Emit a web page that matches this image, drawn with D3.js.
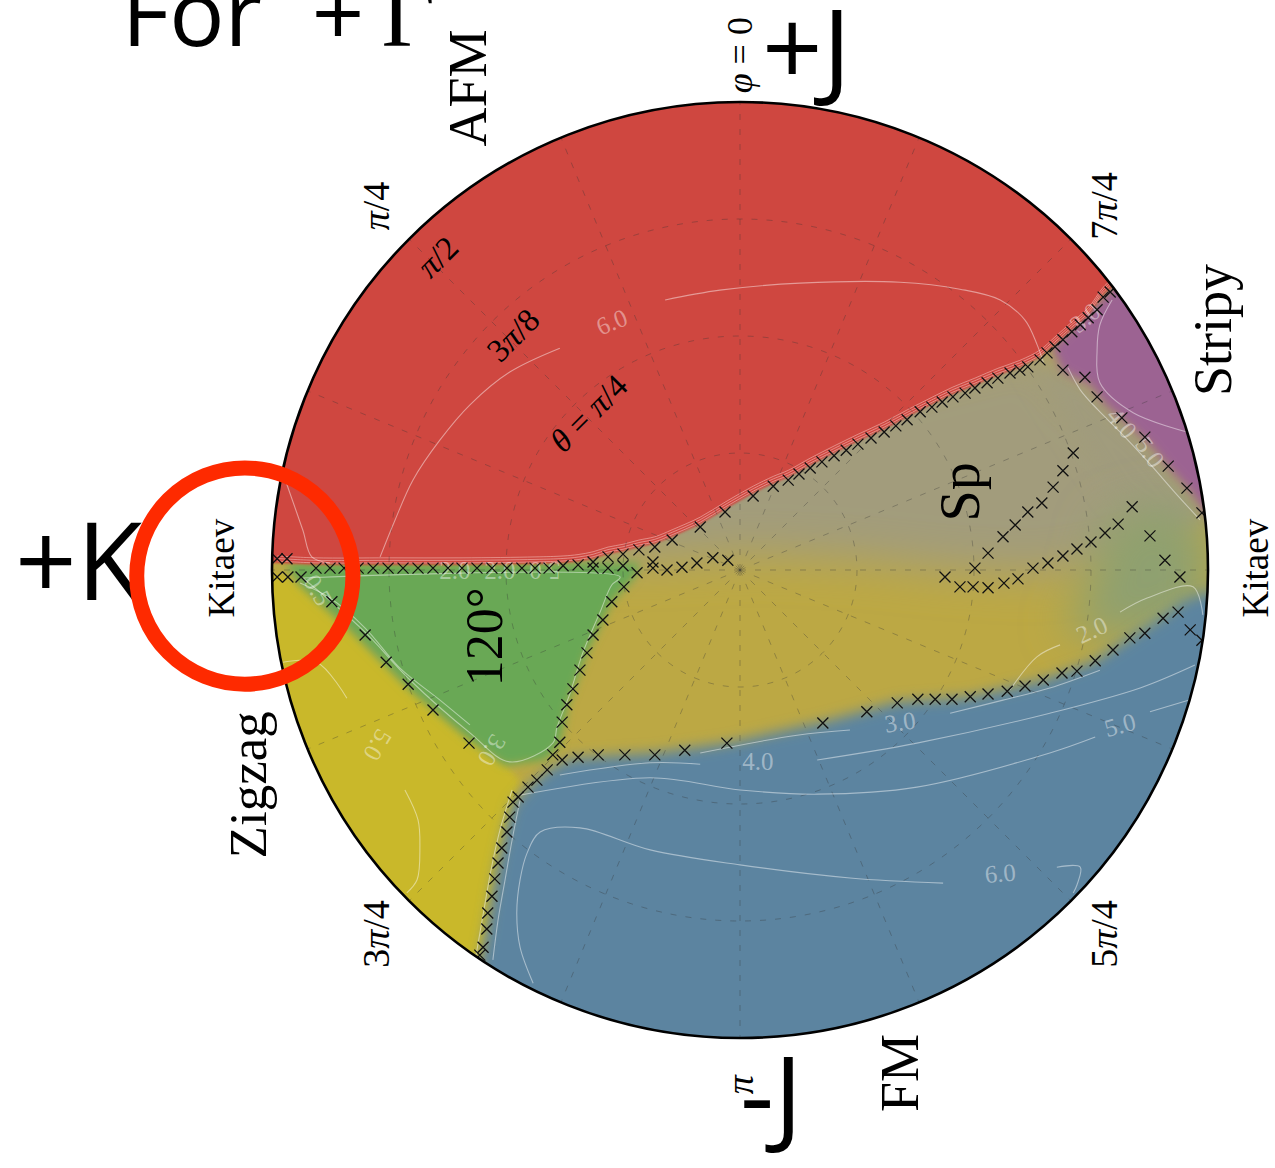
<!DOCTYPE html>
<html><head><meta charset="utf-8">
<script src="https://cdn.jsdelivr.net/npm/d3@7"></script>
<style>body{margin:0;background:#fff}svg{display:block}</style>
</head><body>
<svg id="chart" width="1275" height="1168"></svg>
<script>
// ---------- DATA (projected plane coords: radius 100 <=> theta = pi/2; u right, v up) ----------
const phiTicks = [0, 45, 135, 180, 225, 315];               // degrees
const phiTickLabels = ["φ = 0", "π/4", "3π/4", "π", "5π/4", "7π/4"];
const thetaGrid = [22.5, 45, 67.5];                          // degrees
const phiGrid = d3.range(0, 360, 22.5);
const thetaLabelValues = [90, 67.5, 45];
const thetaLabels = ["π/2", "3π/8", "θ = π/4"];

const afmRegion = [[-120,1.5],[-98.9,1.5],[-90.6,1.1],[-75.2,1.1],[-59.4,1.1],[-43.8,1.3],[-37.8,1.5],[-34.6,1.8],[-31.4,2.4],[-28.2,3.4],[-25.0,4.0],[-21.6,4.9],[-18.2,5.6],[-14.5,7.1],[-8.5,9.8],[-3.2,13.0],[2.8,16.4],[7.1,18.5],[10.3,19.8],[15.0,22.4],[20.1,25.0],[25.2,27.5],[30.8,30.1],[35.7,32.7],[41.0,35.4],[45.5,37.6],[50.2,39.5],[55.1,41.6],[59.8,43.3],[64.1,45.5],[67.3,48.3],[70.9,51.5],[74.4,54.5],[77.6,58.9],[80.5,61.5],[120,90],[120,120],[-120,120]];
const stripyRegion = [[66.5,47.5],[69.0,42.3],[74.8,39.5],[78.0,35.3],[82.3,31.6],[87.6,26.7],[91.9,21.4],[96.2,16.7],[100.4,10.7],[120,10.7],[120,90],[80.5,61.5]];
const spRegion = [[-38.5,1.7],[-17.1,2.1],[4.3,3.2],[25.6,2.1],[44.9,0],[64.1,-1.1],[81.2,2.1],[98.3,8.5],[94.0,17.1],[87.6,25.6],[81.2,30.8],[70.5,40.6],[64.1,49.2],[12.8,36.3],[-38.5,10.7]];
const spUpperRegion = [[60.9,45.0],[69.0,42.3],[74.8,39.5],[78.0,35.3],[82.3,31.6],[87.6,26.7],[91.9,21.4],[96.2,16.7],[100.4,10.7],[90.0,8.0],[80.0,15.0],[70.0,30.0]];
const spGreenRegion = [[78.0,10.7],[91.9,14.9],[100.4,6.4],[100.4,-8.5],[85.5,-14.9],[68.4,-12.8],[74.8,-3.2]];
const tri120Region = [[-97.2,1.5],[-21.4,1.5],[-22.5,-1.5],[-27.4,-6.8],[-32.7,-17.7],[-36.8,-28.8],[-38.5,-37.4],[-41.7,-40.6],[-50.2,-41.7],[-57.7,-36.3],[-70.5,-25.6],[-83.3,-12.8],[-94.0,-3.2]];
const zigzagRegion = [[-120,-1.0],[-97,-1.0],[-94.0,-3.2],[-83.3,-12.8],[-70.5,-25.6],[-57.7,-36.3],[-50.2,-41.7],[-47.0,-44.9],[-49.2,-52.8],[-51.7,-62.6],[-53.4,-73.3],[-55.6,-84.4],[-70,-120],[-120,-120]];
const fmRegion = [[-55.6,-84.4],[-54.1,-76.7],[-53.0,-69.7],[-51.7,-62.6],[-50.2,-56.0],[-48.7,-50.2],[-45.9,-47.0],[-41.7,-43.2],[-36.3,-40.2],[-18.2,-39.1],[-2.8,-37.0],[17.7,-32.5],[33.6,-28.2],[49.2,-27.1],[64.8,-23.5],[75.9,-19.4],[83.3,-14.5],[90.4,-10.0],[95.1,-6.4],[101.5,-4.3],[120,-4.3],[120,-120],[-60,-120]];

// phase-transition points (x markers)
const mAfmEdge = [[79.1,59.4],[77.6,58.3],[76.3,55.6],[74.4,53.9],[72.7,52.4],[70.9,50.9],[69.0,49.2],[67.3,47.7],[65.6,46.4],[64.1,44.9],[61.5,43.4],[59.8,42.7],[57.7,42.1],[55.1,41.0],[52.8,40.0],[50.2,38.9],[48.1,37.8],[45.5,37.0],[43.2,35.9],[41.0,34.8],[38.5,33.8],[35.7,32.1],[33.3,30.8],[30.8,29.5],[28.0,28.2],[25.2,26.9],[22.7,25.6],[20.1,24.4],[17.5,23.1],[15.0,21.8],[12.6,20.5],[10.3,19.2],[7.1,17.9],[2.8,15.8],[-3.2,12.4],[-8.5,9.2],[-14.5,6.4],[-18.2,4.9],[-21.6,4.3],[-25.0,3.4],[-28.2,2.8],[-31.4,1.7],[-34.6,1.1],[-37.8,0.9],[-40.8,0.4],[-43.8,0.4],[-46.6,0.4],[-49.8,0.4],[-53.0,0.4],[-56.2,0.4],[-59.4,0.4],[-62.4,0.4],[-65.6,0.4],[-68.8,0.4],[-72.0,0.4],[-75.2,0.4],[-78.4,0.4],[-81.6,0.4],[-84.6,0.4],[-87.6,0.4],[-90.6,0.4],[-98.9,2.4],[-96.8,2.4],[-98.9,-1.5],[-96.6,-1.5],[-93.8,-1.5]];
const mSpYellow = [[-31.4,0.4],[-28.2,0.4],[-25.0,0.9],[-18.6,1.7],[-18.6,0.4],[-15.6,0.0],[-12.4,0.6],[-9.2,1.5],[-5.8,2.6],[-2.6,2.1]];
const m120Right = [[-22.0,-0.6],[-24.8,-3.6],[-27.4,-6.8],[-29.3,-10.7],[-31.4,-13.9],[-32.7,-17.7],[-34.2,-21.4],[-35.7,-25.4],[-37.0,-28.8],[-38.0,-32.5],[-38.5,-36.8],[-40.0,-39.5],[-38.0,-40.6],[-41.2,-42.7],[-43.4,-44.9],[-45.3,-46.4],[-47.4,-48.5],[-48.5,-49.6]];
const mZigzagFm = [[-49.2,-52.8],[-49.8,-56.0],[-50.9,-59.4],[-51.7,-62.6],[-52.4,-66.0],[-53.0,-69.7],[-53.9,-73.3],[-54.1,-76.7],[-54.9,-80.6],[-55.6,-82.3]];
const m120Zigzag = [[-87.2,-6.8],[-80.1,-13.9],[-75.6,-19.7],[-70.9,-24.4],[-65.6,-29.9],[-57.9,-37.0]];
const mYellowFm = [[-34.6,-40.0],[-30.3,-39.5],[-24.6,-39.5],[-18.2,-39.5],[-11.8,-38.5],[-2.8,-37.0],[17.7,-32.7],[27.1,-30.3],[33.6,-28.4],[38.0,-27.6],[41.7,-27.6],[45.3,-27.6],[49.2,-27.1],[53.0,-26.5],[57.1,-25.9],[60.9,-24.8],[64.8,-23.5],[68.8,-22.0],[72.0,-21.6],[75.9,-19.4],[79.7,-17.1],[83.3,-14.5],[86.5,-13.5],[90.4,-10.3],[93.6,-9.0],[96.2,-12.8],[98.7,-15.0]];
const mSpInner = [[43.8,-1.5],[47.0,-3.6],[49.8,-3.6],[53.0,-3.8],[56.4,-2.8],[50.2,0.4],[53.0,3.6],[56.2,7.1],[58.8,9.6],[61.5,12.4],[64.5,14.3],[66.9,17.7],[69.0,21.2],[71.2,25.0]];
const mSpOuter = [[59.4,-1.9],[62.6,0.4],[65.8,1.5],[69.0,3.0],[72.0,4.5],[75.0,6.0],[78.0,7.9],[80.8,9.8],[83.8,13.5]];
const mStripy = [[69.0,42.7],[73.7,41.2],[76.3,37.0],[81.6,32.5],[86.5,28.4],[91.5,22.2],[95.5,17.5],[98.7,12.2],[87.6,7.3],[90.8,2.1],[94.0,-1.5]];

// contour lines (gap where a label sits)
const contourLines = [
  [[-76.9,2.8],[-73.7,10.7],[-69.9,19.2],[-64.1,27.8],[-57.7,35.3],[-49.2,42.3],[-38.5,47.4]],
  [[-16.0,57.7],[-4.3,59.8],[12.8,61.3],[34.2,61.5],[47.0,60.0],[55.6,57.7],[60.9,53.4],[63.5,48.1],[64.8,44.4]],
  [[-97.9,21.4],[-96.2,16.5],[-93.4,8.5],[-91.5,2.8],[-87.6,1.5]],
  [[57.7,-25.6],[63.5,-18.5],[68.4,-16.0]],
  [[81.2,-9.0],[87.0,-6.0],[96.8,-3.6],[98.9,-9.6]],
  [[-8.5,-39.1],[12.2,-35.3],[23.5,-34.2]],
  [[44.9,-30.6],[56.2,-27.8],[66.2,-25.2],[76.9,-21.4]],
  [[-38.5,-43.8],[-19.2,-41.2],[-8.5,-41.5]],
  [[16.5,-40.6],[37.8,-37.0],[66.2,-30.6],[85.5,-25.2],[97.2,-20.3]],
  [[-47.0,-48.1],[-19.2,-44.4],[0,-47.0],[16.5,-47.9],[37.8,-46.4],[66.2,-39.1],[75.9,-35.7]],
  [[87.6,-30.3],[98.3,-27.1]],
  [[-44.2,-88.3],[-47.0,-80.6],[-47.7,-73.3],[-47.0,-66.2],[-45.5,-60.5],[-42.7,-56.0],[-34.2,-55.1],[-19.2,-59.8],[0,-63.0],[23.5,-65.8],[43.4,-66.9]],
  [[67.7,-63.5],[72.7,-63.5],[72.0,-67.3],[71.2,-69.0]],
  [[-97.7,-19.7],[-90.4,-19.7],[-84.0,-27.4]],
  [[-71.6,-47.0],[-68.8,-53.4],[-68.4,-59.2],[-69.0,-66.2],[-71.2,-69.0]],
  [[-94.0,-2.8],[-87.6,-6.0],[-80.1,-12.4],[-72.7,-20.9],[-64.1,-27.8],[-57.7,-33.1]],
  [[-48.7,-47.0],[-51.3,-55.6],[-53.2,-64.1],[-54.9,-73.7],[-56.4,-82.3]],
  [[-47.0,-49.2],[-48.7,-57.7],[-50.2,-66.2],[-51.7,-74.8],[-52.8,-83.3]],
  [[79.5,57.7],[76.9,52.4],[76.3,47.0],[76.9,40.0],[84.0,33.6],[95.5,29.5]],
  [[70.1,43.2],[72.7,38.5],[76.5,34.2],[81.2,29.5],[87.2,23.1],[93.0,16.5],[98.3,10.7]],
  [[-93.4,-1.7],[-80.6,-12.8],[-70.5,-23.5],[-57.7,-34.8],[-49.2,-41.0],[-40.0,-37.0],[-39.1,-33.6],[-36.3,-26.3],[-33.6,-17.7],[-29.9,-9.0],[-27.4,-3.2],[-25.6,-1.5],[-93.4,-1.7]]
];
const contourLabels = [
  {t:"6.0", u:-27.4, v:53.0, rot:-22},
  {t:"2.0", u:75.2, v:-12.8, rot:-25},
  {t:"3.0", u:34.2, v:-32.5, rot:-8},
  {t:"4.0", u:3.8, v:-41.0, rot:0},
  {t:"5.0", u:81.2, v:-33.1, rot:-15},
  {t:"6.0", u:55.6, v:-64.8, rot:-5},
  {t:"5.0", u:-77.4, v:-37.4, rot:120},
  {t:"3.0", u:-53.0, v:-38.5, rot:120},
  {t:"2.0", u:-60.9, v:0.0, rot:0},
  {t:"2.0", u:-51.3, v:0.0, rot:0},
  {t:"5.0", u:-41.7, v:0.0, rot:180},
  {t:"0.5", u:-90.2, v:-4.3, rot:60},
  {t:"3.0", u:73.7, v:53.9, rot:-40},
  {t:"4.0", u:81.6, v:31.4, rot:50},
  {t:"5.0", u:87.6, v:25.2, rot:55}
];
const phaseLabels = [
  {t:"AFM", u:-58.1, v:103.0, size:54},
  {t:"Stripy", u:101.1, v:51.3, size:54},
  {t:"Zigzag", u:-105.1, v:-45.9, size:53},
  {t:"FM", u:34.2, v:-107.5, size:54},
  {t:"Kitaev", u:-110.7, v:0.4, size:37},
  {t:"Kitaev", u:110.1, v:0.4, size:37},
  {t:"Sp", u:47.0, v:16.7, size:56},
  {t:"120°", u:-54.5, v:-14.3, size:52}
];
const couplingLabels = [
  {t:"+J", u:4.7, v:103.4},
  {t:"-J", u:0.0, v:-120.3},
  {t:"+K", u:-154.9, v:-6.4}
];
const highlight = {u:-105.8, v:-1.3, r:23.1};

// ---------- DRAWING ----------
const W = 1275, H = 1168, cx = 740, cy = 570, R = 468;
const svg = d3.select("#chart");
const x = d3.scaleLinear().domain([-100, 100]).range([cx - R, cx + R]);
const y = d3.scaleLinear().domain([-100, 100]).range([cy + R, cy - R]);
const rScale = d3.scaleLinear().domain([0, 90]).range([0, R]);
const polar = (phi, th) => { const a = phi * Math.PI / 180, r = rScale(th); return [cx - r * Math.sin(a), cy - r * Math.cos(a)]; };

const defs = svg.append("defs");
defs.append("clipPath").attr("id", "disk").append("circle").attr("cx", cx).attr("cy", cy).attr("r", R);
[["b1",1],["b3",3],["b5",5],["b7",7],["b10",10],["b22",22]].forEach(([id, s]) => {
  defs.append("filter").attr("id", id).attr("filterUnits", "userSpaceOnUse")
    .attr("x", -300).attr("y", -300).attr("width", W + 600).attr("height", H + 600)
    .append("feGaussianBlur").attr("stdDeviation", s);
});

const area = d3.line().x(d => x(d[0])).y(d => y(d[1])).curve(d3.curveLinearClosed);
const curve = d3.line().x(d => x(d[0])).y(d => y(d[1])).curve(d3.curveCatmullRom.alpha(0.5));

const g = svg.append("g").attr("clip-path", "url(#disk)");
g.append("circle").attr("cx", cx).attr("cy", cy).attr("r", R + 5).attr("fill", "#bca844");
const regions = [
  [zigzagRegion, "#c9b82c", "b3"],
  [spRegion, "#a29c7c", "b22"],
  [spUpperRegion, "#a09b7d", "b10"],
  [spGreenRegion, "#8fa070", "b22"],
  [tri120Region, "#69a854", "b5"],
  [fmRegion, "#5b84a0", "b7"],
  [stripyRegion, "#9c6492", "b5"],
  [afmRegion, "#cf463f", "b1"]
];
regions.forEach(([pts, col, f]) => {
  g.append("path").attr("d", area(pts)).attr("fill", col).attr("filter", `url(#${f})`);
});

// pinkish contour bundle along the AFM edge
const edge = afmRegion.slice(1, 35);
[-2, -4.5, -7].forEach(dy => {
  g.append("path").attr("d", curve(edge)).attr("transform", `translate(0,${dy})`)
    .attr("fill", "none").attr("stroke", "#f6c3bd").attr("stroke-opacity", 0.55).attr("stroke-width", 1);
});

// grid
const grid = g.append("g").attr("stroke", "#333").attr("stroke-opacity", 0.33).attr("stroke-width", 1)
  .attr("stroke-dasharray", "6,9").attr("fill", "none");
thetaGrid.forEach(t => grid.append("circle").attr("cx", cx).attr("cy", cy).attr("r", rScale(t)));
phiGrid.forEach(p => { const [px, py] = polar(p, 90); grid.append("line").attr("x1", cx).attr("y1", cy).attr("x2", px).attr("y2", py); });

// contours
const cg = g.append("g").attr("fill", "none").attr("stroke", "#fff").attr("stroke-opacity", 0.45).attr("stroke-width", 1.1);
contourLines.forEach(c => cg.append("path").attr("d", curve(c)));
contourLabels.forEach(l => {
  g.append("text").attr("transform", `translate(${x(l.u)},${y(l.v)}) rotate(${l.rot})`)
    .attr("text-anchor", "middle").attr("dominant-baseline", "central")
    .attr("font-family", "Liberation Serif, serif").attr("font-size", 25)
    .attr("fill", "#fff").attr("fill-opacity", 0.42).text(l.t);
});

// markers
const allMarkers = [].concat(mAfmEdge, mSpYellow, m120Right, mZigzagFm, m120Zigzag, mYellowFm, mSpInner, mSpOuter, mStripy);
g.append("g").selectAll("path").data(allMarkers).join("path")
  .attr("transform", d => `translate(${x(d[0])},${y(d[1])})`)
  .attr("d", "M-5.5,-5.5L5.5,5.5M-5.5,5.5L5.5,-5.5")
  .attr("stroke", "#111").attr("stroke-width", 1.3).attr("fill", "none");

// outer circle
svg.append("circle").attr("cx", cx).attr("cy", cy).attr("r", R).attr("fill", "none").attr("stroke", "#000").attr("stroke-width", 2.6);

// phi tick labels
phiTicks.forEach((p, i) => {
  const [px, py] = polar(p, 99);
  const t = svg.append("text").attr("transform", `translate(${px},${py}) rotate(-90)`)
    .attr("text-anchor", "middle").attr("dominant-baseline", "central")
    .attr("font-family", "Liberation Serif, serif").attr("font-size", i === 0 ? 36 : 38);
  const lab = phiTickLabels[i];
  lab.split(/(φ|π)/).filter(s => s.length).forEach(s => {
    t.append("tspan").attr("font-style", (s === "φ" || s === "π") ? "italic" : "normal").text(s);
  });
});

// theta labels
thetaLabelValues.forEach((th, i) => {
  const [px, py] = polar(44, th * 0.93);
  const t = svg.append("text").attr("transform", `translate(${px},${py}) rotate(-45)`)
    .attr("text-anchor", "middle").attr("dominant-baseline", "central")
    .attr("font-family", "Liberation Serif, serif").attr("font-size", 33);
  thetaLabels[i].split(/(θ|π)/).filter(s => s.length).forEach(s => {
    t.append("tspan").attr("font-style", (s === "θ" || s === "π") ? "italic" : "normal").text(s);
  });
});

// phase labels
phaseLabels.forEach(l => {
  svg.append("text").attr("transform", `translate(${x(l.u)},${y(l.v)}) rotate(-90)`)
    .attr("text-anchor", "middle").attr("dominant-baseline", "central")
    .attr("font-family", "Liberation Serif, serif").attr("font-size", l.size).attr("fill", "#000").text(l.t);
});

// coupling annotations
couplingLabels.forEach(l => {
  svg.append("text").attr("x", x(l.u)).attr("y", y(l.v))
    .attr("font-family", "Open Sans, sans-serif").attr("font-weight", 500)
    .attr("font-size", l.t === "+K" ? 108 : 106).attr("fill", "#000").text(l.t);
});

// title fragment (cut at top edge, as in the slide)
const title = svg.append("text").attr("y", y(112.0)).attr("font-size", 92).attr("fill", "#000");
title.append("tspan").attr("x", x(-132.1)).attr("font-family", "Open Sans, sans-serif").attr("font-weight", 500).text("For ");
title.append("tspan").attr("x", x(-91.5)).attr("font-family", "Open Sans, sans-serif").attr("font-weight", 500).text("+");
title.append("tspan").attr("x", x(-76.6)).attr("font-family", "Liberation Serif, serif").text("Γ");

// highlight ring
svg.append("circle").attr("cx", x(highlight.u)).attr("cy", y(highlight.v))
  .attr("r", x(highlight.r) - x(0)).attr("fill", "none").attr("stroke", "#fe2a00").attr("stroke-width", 15);
</script>
</body></html>
